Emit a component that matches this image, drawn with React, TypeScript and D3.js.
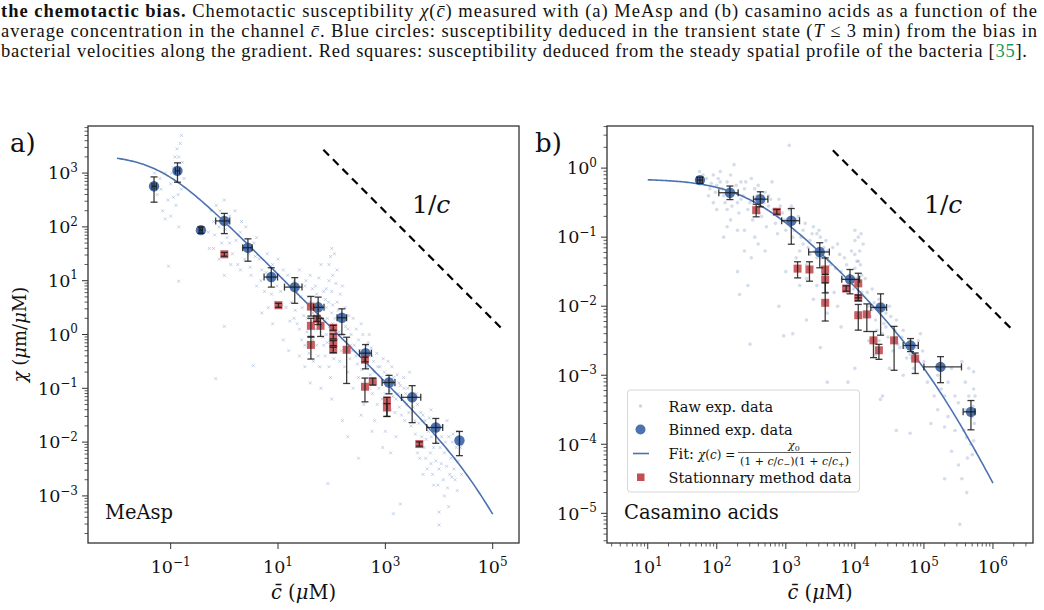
import React from 'react';
import * as d3 from 'd3';

const BLUE = '#4c72b0';
const RED = '#c44e52';
const FONT = '"DejaVu Serif", serif';
const CAPTION_FONT = '"Liberation Serif", serif';

// raw measurements, stored as [log10 c, log10 chi]
const rawA: [number, number][] = [
  [-1.25, 2.6], [-1.2, 2.9], [-1.15, 2.3], [-1.1, 3.0], [-1.05, 2.5], [-1.0, 2.8], [-0.95, 3.1], [-0.9, 2.4],
  [-0.88, 3.45], [-0.85, 3.3], [-0.82, 3.55], [-0.8, 2.7], [-0.78, 3.2], [-0.9, 3.0], [-1.0, 2.2], [-0.85, 2.0],
  [-1.3, 3.0], [-0.75, 2.9], [-0.95, 2.55], [-1.1, 2.15], [-1.18, 2.7], [-0.98, 3.0], [-0.86, 2.6], [-0.92, 3.3],
  [-0.8, 3.7], [-0.84, 3.1],
  [-0.3, 1.9], [-0.25, 2.3], [-0.2, 1.6], [-0.15, 2.4], [-0.1, 2.0], [-0.05, 1.7], [0.0, 2.5], [0.05, 1.8],
  [0.1, 2.2], [0.15, 1.5], [0.2, 2.3], [0.25, 1.3], [0.3, 1.9], [0.35, 1.6], [-0.1, 1.4], [0.0, 1.1],
  [0.1, 1.7], [0.4, 2.0], [-0.2, 2.1], [0.3, 1.2], [-0.28, 1.6], [-0.18, 1.85], [-0.08, 2.3], [0.02, 1.95],
  [0.12, 1.3], [0.22, 1.75], [0.32, 2.1], [0.38, 1.4],
  [-1.04, 1.27], [-0.85, 0.99], [0.0, 0.15], [-0.16, -0.82], [0.54, -0.58],
  [0.45, 1.5], [0.5, 1.1], [0.55, 1.7], [0.6, 0.9], [0.65, 1.4], [0.7, 1.2], [0.75, 0.8], [0.8, 1.5],
  [0.85, 1.0], [0.9, 1.3], [0.95, 0.6], [1.0, 1.1], [1.05, 0.8], [1.1, 1.2], [1.15, 0.5], [0.7, 0.4],
  [0.9, 0.2], [1.0, 1.4], [0.6, 1.8], [1.2, 0.9], [0.48, 1.25], [0.58, 1.45], [0.68, 1.0], [0.78, 1.15],
  [0.88, 0.75], [0.98, 0.9], [1.08, 0.55], [1.18, 1.1], [1.22, 0.25], [0.82, 0.5],
  [1.25, 0.6], [1.3, 1.0], [1.3, 0.3], [1.35, 0.8], [1.4, 0.1], [1.4, 1.2], [1.45, 0.5], [1.5, 0.9],
  [1.5, -0.2], [1.55, 0.3], [1.6, 1.1], [1.6, 0.6], [1.65, -0.1], [1.65, 0.4], [1.7, 0.9], [1.7, 0.1],
  [1.75, 0.6], [1.75, -0.4], [1.8, 1.3], [1.8, 0.3], [1.85, 0.8], [1.85, -0.2], [1.9, 0.5], [1.9, 0.0],
  [1.95, 1.0], [1.95, -0.6], [2.0, 0.4], [2.0, 0.8], [2.0, -0.3], [2.05, 0.1], [2.05, 1.5], [2.1, 0.6],
  [2.1, -0.1], [2.15, 0.3], [2.15, -0.5], [2.2, 0.9], [2.2, 0.0], [2.25, -0.3], [2.25, 0.5], [2.3, 0.1],
  [2.3, -0.7], [2.35, -0.2], [1.5, -0.6], [1.6, -0.9], [1.8, -1.0], [2.0, -1.2], [1.4, -0.4], [1.2, -0.3],
  [1.1, -0.1], [2.1, 1.2], [1.72, 0.75], [1.78, 0.2], [1.88, 0.65], [2.02, 0.2], [2.08, 0.95], [1.92, 0.3],
  [1.28, 0.9], [1.32, 0.45], [1.36, 0.2], [1.42, 0.7], [1.44, -0.1], [1.48, 0.35], [1.52, 1.0], [1.54, 0.05],
  [1.56, 0.7], [1.58, -0.35], [1.62, 0.25], [1.64, 0.85], [1.66, -0.5], [1.68, 0.55], [1.72, -0.2], [1.74, 0.35],
  [1.76, 1.05], [1.78, -0.6], [1.82, 0.5], [1.84, -0.05], [1.86, 0.25], [1.88, -0.4], [1.9, 0.85], [1.92, -0.15],
  [1.94, 0.6], [1.96, 0.15], [1.98, -0.8], [2.02, 0.55], [2.04, -0.45], [2.06, 0.3], [2.08, -0.2], [2.12, 0.45],
  [2.14, 0.05], [2.16, 0.75], [2.18, -0.3], [2.22, 0.25], [2.24, -0.6], [2.26, 0.15], [2.28, -0.1], [2.32, 0.35],
  [2.34, -0.45], [2.36, 0.0], [2.38, -0.3], [1.95, 1.3], [2.0, 1.6], [2.02, 1.1], [1.98, 1.45],
  [2.4, 0.3], [2.45, -0.4], [2.5, -0.1], [2.5, -0.8], [2.55, 0.2], [2.6, -0.5], [2.65, -0.2], [2.7, -1.0],
  [2.75, -0.4], [2.8, -0.7], [2.85, -1.3], [2.9, -0.6], [2.95, -0.9], [3.0, -1.1], [3.05, -0.5], [3.1, -1.4],
  [3.15, -0.8], [3.2, -1.2], [3.25, -0.9], [3.3, -1.5], [3.35, -1.0], [3.4, -1.3], [3.45, -0.7], [2.6, -1.3],
  [2.8, -1.6], [3.0, -1.8], [2.4, -1.0], [3.2, -1.9], [2.7, 0.0], [3.5, -1.1],
  [2.42, -0.2], [2.46, 0.1], [2.48, -0.55], [2.52, -0.3], [2.56, -0.65], [2.58, 0.0], [2.62, -0.85], [2.64, -0.35],
  [2.66, -0.6], [2.68, -0.15], [2.72, -0.75], [2.74, -0.25], [2.76, -1.1], [2.78, -0.5], [2.82, -0.9], [2.84, -0.35],
  [2.86, -0.6], [2.88, -1.0], [2.92, -0.8], [2.94, -1.2], [2.96, -0.45], [2.98, -0.7], [3.02, -0.95], [3.04, -1.25],
  [3.06, -0.75], [3.08, -1.05], [3.12, -0.6], [3.14, -1.15], [3.16, -0.95], [3.18, -1.45], [3.22, -0.75], [3.24, -1.1],
  [3.26, -1.35], [3.28, -0.95], [3.32, -1.2], [3.34, -0.8], [3.36, -1.6], [3.38, -1.1], [3.42, -1.0], [3.44, -1.45],
  [3.46, -1.2], [3.48, -1.7], [2.55, -1.5], [2.75, -1.8], [2.95, -2.1], [3.1, -2.2], [2.5, -2.3], [2.3, -1.9],
  [3.55, -1.6], [3.6, -1.3], [3.65, -2.0], [3.7, -1.5], [3.75, -2.3], [3.8, -1.8], [3.85, -1.4], [3.9, -2.1],
  [3.95, -1.7], [4.0, -2.5], [4.05, -1.9], [4.1, -2.2], [4.15, -1.6], [4.2, -2.6], [4.25, -2.0], [4.3, -2.3],
  [4.35, -1.8], [3.7, -2.6], [3.9, -2.8], [4.1, -3.0], [4.0, -3.3], [3.6, -2.2], [4.3, -2.7], [3.85, -2.4],
  [3.52, -1.35], [3.56, -1.85], [3.58, -1.1], [3.62, -1.65], [3.64, -2.3], [3.66, -1.45], [3.68, -1.9], [3.72, -2.1],
  [3.74, -1.6], [3.76, -1.95], [3.78, -2.5], [3.82, -1.55], [3.84, -2.2], [3.86, -1.9], [3.88, -2.6], [3.92, -1.8],
  [3.94, -2.35], [3.96, -2.0], [3.98, -2.8], [4.02, -2.1], [4.04, -2.4], [4.06, -1.7], [4.08, -2.7], [4.12, -2.0],
  [4.14, -2.45], [4.16, -2.85], [4.18, -1.9], [4.22, -2.3], [4.24, -2.65], [4.26, -1.85], [4.28, -2.5], [4.32, -2.1],
  [4.34, -2.9], [4.36, -2.35], [4.4, -2.1], [4.42, -2.6],
  [3.15, -3.33], [4.0, -3.54], [1.93, -2.77], [3.28, -3.15], [4.18, -3.2], [2.2, -1.6],
];

const rawB: [number, number][] = [
  [1.75, -0.05], [1.85, -0.15], [1.9, -0.3], [1.95, -0.1], [2.0, -0.25], [2.05, -0.05], [2.1, -0.4], [2.15, -0.2],
  [2.2, -0.1], [2.25, -0.35], [2.3, -0.5], [2.35, -0.2], [2.4, -0.3], [2.45, -0.6], [2.5, -0.15], [2.55, -0.45],
  [2.6, -0.25], [2.65, -0.7], [2.7, -0.35], [2.75, -0.55], [2.8, -0.2], [2.85, -0.8], [2.9, -0.45], [2.95, -0.65],
  [3.0, -0.9], [2.0, -0.6], [2.2, -0.75], [2.4, -0.9], [2.1, -1.0], [1.95, -0.5], [2.6, -1.1], [2.5, -1.3],
  [2.3, -1.5], [2.7, -1.2], [2.45, -1.7], [2.9, -2.0], [3.05, 0.33], [2.25, 0.05], [2.05, -0.2], [2.35, -0.45],
  [2.55, -0.3], [2.75, -0.4], [2.15, -0.6], [1.88, -0.4], [2.62, -0.55], [2.82, -0.6],
  [1.8, -0.1], [1.92, -0.22], [1.98, -0.35], [2.02, -0.15], [2.08, -0.3], [2.12, -0.5], [2.18, -0.3], [2.22, -0.55],
  [2.28, -0.25], [2.32, -0.65], [2.38, -0.4], [2.42, -0.2], [2.48, -0.5], [2.52, -0.75], [2.58, -0.4], [2.62, -0.65],
  [2.68, -0.5], [2.72, -0.85], [2.78, -0.45], [2.84, -0.65], [2.88, -0.95], [2.92, -0.55], [2.98, -0.75], [2.3, -0.9],
  [2.15, -0.85], [2.55, -1.0], [2.4, -1.2],
  [3.05, -0.6], [3.1, -1.0], [3.15, -0.75], [3.2, -1.2], [3.25, -0.9], [3.3, -1.4], [3.35, -1.05], [3.4, -0.85],
  [3.45, -1.3], [3.5, -1.0], [3.55, -1.6], [3.6, -1.2], [3.65, -1.4], [3.7, -1.8], [3.75, -1.1], [3.8, -1.5],
  [3.85, -1.3], [3.9, -1.7], [3.95, -1.2], [4.0, -0.9], [4.0, -1.05], [4.0, -1.25], [4.0, -1.45], [4.02, -1.6],
  [3.98, -1.75], [4.05, -1.35], [4.1, -1.8], [3.2, -1.7], [3.4, -1.9], [3.6, -2.1], [3.1, -2.4], [3.3, -2.2],
  [3.8, -2.3], [3.5, -2.6], [3.0, -1.5], [3.25, -1.1], [3.45, -0.95], [3.35, -1.25], [3.55, -1.15],
  [3.02, -0.75], [3.08, -0.55], [3.12, -0.9], [3.18, -0.7], [3.22, -1.0], [3.28, -0.8], [3.32, -1.15], [3.38, -0.95],
  [3.42, -1.2], [3.48, -0.9], [3.52, -1.3], [3.58, -1.05], [3.62, -1.35], [3.68, -1.15], [3.72, -1.45], [3.78, -1.25],
  [3.82, -1.6], [3.88, -1.4], [3.92, -1.55], [3.15, -1.3], [3.3, -1.6], [3.45, -1.7], [3.6, -1.8], [3.75, -2.0],
  [4.05, -1.0], [4.07, -1.2], [4.08, -1.4], [4.1, -1.55], [4.12, -1.1], [4.06, -1.7], [4.11, -1.85], [4.03, -1.35],
  [4.09, -0.95],
  [4.15, -1.6], [4.2, -2.0], [4.25, -1.75], [4.3, -2.2], [4.35, -1.9], [4.4, -2.4], [4.45, -2.1], [4.5, -2.0],
  [4.55, -2.5], [4.6, -2.2], [4.65, -2.6], [4.7, -2.35], [4.75, -2.75], [4.8, -2.5], [4.85, -2.9], [4.9, -2.6],
  [4.95, -2.4], [5.0, -2.8], [4.3, -2.7], [4.5, -2.9], [4.2, -2.5], [4.7, -3.0], [5.05, -3.1], [4.0, -2.9],
  [4.4, -3.3], [3.9, -3.1], [4.45, -2.3], [4.6, -2.45], [4.25, -2.05], [4.8, -2.7],
  [4.18, -1.8], [4.22, -2.15], [4.28, -1.95], [4.32, -2.35], [4.38, -2.05], [4.42, -2.25], [4.48, -2.45], [4.52, -2.15],
  [4.58, -2.35], [4.62, -2.55], [4.68, -2.45], [4.72, -2.6], [4.78, -2.55], [4.82, -2.75], [4.88, -2.7], [4.92, -2.5],
  [4.98, -2.65], [4.55, -2.65], [4.35, -2.5],
  [5.2, -3.0], [5.3, -3.3], [5.35, -3.6], [5.4, -2.9], [5.45, -3.8], [5.5, -3.4], [5.55, -2.8], [5.6, -3.1],
  [5.6, -3.5], [5.62, -3.9], [5.63, -4.2], [5.65, -3.3], [5.65, -2.9], [5.68, -4.0], [5.5, -4.3], [5.4, -4.1],
  [5.3, -4.5], [5.1, -3.7], [5.52, -5.16], [4.6, -3.8], [5.2, -3.5],
  [5.72, -2.95], [5.72, -3.2], [5.71, -3.45], [5.73, -3.7], [5.72, -3.95], [5.7, -4.15], [5.74, -3.3], [5.7, -3.6],
  [5.25, -3.2], [5.35, -3.1], [5.45, -3.3], [5.3, -3.75], [5.15, -3.3], [5.58, -3.8], [5.55, -4.5], [5.62, -4.7],
  [2.33, -1.83], [2.48, -2.55], [2.97, -2.43], [3.6, -3.1], [4.37, -3.35], [4.8, -3.84],
];

// binned data: [c, chi, chiLow, chiHigh, cLow, cHigh]
const binnedA: number[][] = [
  [0.049, 570, 288, 850, 0.045, 0.054],
  [0.134, 1100, 676, 1550, 0.122, 0.147],
  [0.366, 87, 76, 100, 0.34, 0.39],
  [1.0, 129, 75, 178, 0.69, 1.26],
  [2.75, 41, 23, 60, 2.2, 3.3],
  [7.5, 11.7, 7.6, 17.4, 5.5, 9.8],
  [20.5, 7.6, 3.8, 11.4, 13.2, 28],
  [56, 3.2, 1.53, 4.95, 46, 72],
  [155, 2.05, 1.0, 3.0, 126, 190],
  [427, 0.45, 0.23, 0.65, 330, 550],
  [1170, 0.128, 0.079, 0.174, 870, 1510],
  [3160, 0.068, 0.023, 0.112, 2000, 4570],
  [8700, 0.0187, 0.0095, 0.0275, 5900, 11700],
  [24000, 0.0107, 0.0056, 0.0158, 24000, 24000],
];

// stationary method: [c, chi, chiLow, chiHigh]
const stationaryA: number[][] = [
  [1.0, 31, 28.5, 33.5],
  [10.2, 3.5, 3.2, 3.8],
  [41, 3.3, 2.2, 5.1],
  [41, 1.45, 0.92, 2.0],
  [41, 0.64, 0.35, 0.89],
  [53, 1.96, 1.75, 2.2],
  [62, 1.45, 0.92, 2.0],
  [107, 1.33, 1.2, 1.48],
  [107, 0.92, 0.83, 1.02],
  [107, 0.69, 0.62, 0.77],
  [107, 0.52, 0.46, 0.58],
  [190, 0.52, 0.123, 0.89],
  [417, 0.34, 0.31, 0.38],
  [417, 0.107, 0.056, 0.155],
  [582, 0.133, 0.115, 0.155],
  [1070, 0.059, 0.03, 0.068],
  [1070, 0.044, 0.03, 0.052],
  [4300, 0.0092, 0.0084, 0.0101],
];

const binnedB: number[][] = [
  [57, 0.67, 0.6, 0.74, 52, 62],
  [155, 0.44, 0.35, 0.55, 107, 204],
  [427, 0.355, 0.275, 0.454, 340, 550],
  [1200, 0.173, 0.079, 0.26, 870, 1580],
  [3100, 0.061, 0.036, 0.083, 2140, 4270],
  [8500, 0.0245, 0.0151, 0.034, 6460, 11700],
  [23600, 0.0096, 0.0038, 0.0151, 17000, 28800],
  [64000, 0.0027, 0.0022, 0.0034, 50000, 83000],
  [174000, 0.00132, 0.00078, 0.00186, 100000, 350000],
  [480000, 0.000295, 0.000162, 0.00043, 370000, 550000],
];

const stationaryB: number[][] = [
  [372, 0.246, 0.197, 0.3],
  [741, 0.233, 0.215, 0.252],
  [1480, 0.035, 0.0257, 0.044],
  [2200, 0.034, 0.023, 0.044],
  [3720, 0.034, 0.029, 0.05],
  [3720, 0.0244, 0.0156, 0.029],
  [3720, 0.0112, 0.0061, 0.0218],
  [7480, 0.018, 0.0165, 0.0197],
  [11200, 0.0214, 0.0132, 0.03],
  [11200, 0.0132, 0.012, 0.0145],
  [11200, 0.0074, 0.0045, 0.0106],
  [14900, 0.0076, 0.0043, 0.0108],
  [18600, 0.0032, 0.0018, 0.0043],
  [22300, 0.0023, 0.0017, 0.0028],
  [37000, 0.0032, 0.00118, 0.0051],
  [74800, 0.00174, 0.00106, 0.0021],
];

// fit parameters chi(c) = chi0 / ((1 + c/c-)(1 + c/c+))
const fitA = { chi0: 2200, cMinus: 0.06, cPlus: 53000, cStart: 0.01, cEnd: 1e5 };
const fitB = { chi0: 0.7, cMinus: 300, cPlus: 150000, cStart: 10, cEnd: 1e6 };

// 1/c guide lines: K / c
const guideA = { k: 1.9e5, cStart: 70, cEnd: 1.55e5 };
const guideB = { k: 8700, cStart: 4800, cEnd: 1.9e6 };

const xTicksA = [-1, 1, 3, 5];
const yTicksA = [-3, -2, -1, 0, 1, 2, 3];
const xTicksB = [1, 2, 3, 4, 5, 6];
const yTicksB = [-5, -4, -3, -2, -1, 0];

const sup = (e: number) => (e < 0 ? '\u2212' + Math.abs(e) : String(e));

type PanelProps = {
  left: number; right: number; top: number; bottom: number;
  xDom: [number, number]; yDom: [number, number];
  xTicks: number[]; yTicks: number[]; xMinor: boolean;
  raw: [number, number][]; rawKind: 'x' | 'dot';
  binned: number[][]; stationary: number[][];
  fit: typeof fitA; guide: typeof guideA;
  guideLabel: [number, number];
  name: string; letter: string; letterX: number; yLabel: boolean;
  children?: React.ReactNode;
};

function Panel(p: PanelProps) {
  const x = d3.scaleLog().domain(p.xDom).range([p.left, p.right]);
  const y = d3.scaleLog().domain(p.yDom).range([p.bottom, p.top]);
  const cx = (p.left + p.right) / 2;
  const cy = (p.top + p.bottom) / 2;

  const minor = (dom: [number, number]) => {
    const out: number[] = [];
    const lo = Math.floor(Math.log10(dom[0])), hi = Math.ceil(Math.log10(dom[1]));
    for (let e = lo; e <= hi; e++) for (let m = 2; m <= 9; m++) {
      const v = m * Math.pow(10, e);
      if (v >= dom[0] && v <= dom[1]) out.push(v);
    }
    return out;
  };

  const fitPts = d3.range(0, 201).map(i => {
    const lc = Math.log10(p.fit.cStart) + (i / 200) * (Math.log10(p.fit.cEnd) - Math.log10(p.fit.cStart));
    const c = Math.pow(10, lc);
    return [c, p.fit.chi0 / ((1 + c / p.fit.cMinus) * (1 + c / p.fit.cPlus))] as [number, number];
  });
  const line = d3.line<[number, number]>().x(d => x(d[0])).y(d => y(d[1]));

  const cap = 3.5;
  const clipId = 'clip' + p.letter.replace(')', '');

  return (
    <g>
      <defs>
        <clipPath id={clipId}>
          <rect x={p.left} y={p.top} width={p.right - p.left} height={p.bottom - p.top} />
        </clipPath>
      </defs>
      <g clipPath={`url(#${clipId})`}>
        {p.raw.map((d, i) => {
          const px = x(Math.pow(10, d[0])), py = y(Math.pow(10, d[1]));
          return p.rawKind === 'x' ? (
            <path key={i} d={`M${px - 1.5},${py - 1.5}L${px + 1.5},${py + 1.5}M${px - 1.5},${py + 1.5}L${px + 1.5},${py - 1.5}`}
              stroke="#8fa8d4" strokeOpacity={0.5} strokeWidth={1} />
          ) : (
            <circle key={i} cx={px} cy={py} r={1.8} fill={BLUE} fillOpacity={0.24} />
          );
        })}
        <path d={line(fitPts) || ''} fill="none" stroke={BLUE} strokeWidth={1.6} />
        <line x1={x(p.guide.cStart)} y1={y(p.guide.k / p.guide.cStart)} x2={x(p.guide.cEnd)} y2={y(p.guide.k / p.guide.cEnd)}
          stroke="#000" strokeWidth={2.2} strokeDasharray="8,5.5" />
        {p.binned.map((d, i) => (
          <circle key={i} cx={x(d[0])} cy={y(d[1])} r={5.2} fill={BLUE} />
        ))}
        {p.stationary.map((d, i) => (
          <rect key={i} x={x(d[0]) - 4} y={y(d[1]) - 4} width={8} height={8} fill={RED} fillOpacity={0.9} />
        ))}
        <g stroke="#1a1a1a" strokeWidth={1.3} strokeOpacity={0.85}>
          {p.binned.map((d, i) => {
            const px = x(d[0]), py = y(d[1]);
            const hasX = d[4] !== d[5];
            return (
              <g key={i}>
                <line x1={px} x2={px} y1={y(d[2])} y2={y(d[3])} />
                <line x1={px - cap} x2={px + cap} y1={y(d[2])} y2={y(d[2])} />
                <line x1={px - cap} x2={px + cap} y1={y(d[3])} y2={y(d[3])} />
                {hasX && <line x1={x(d[4])} x2={x(d[5])} y1={py} y2={py} />}
                {hasX && <line x1={x(d[4])} x2={x(d[4])} y1={py - cap} y2={py + cap} />}
                {hasX && <line x1={x(d[5])} x2={x(d[5])} y1={py - cap} y2={py + cap} />}
              </g>
            );
          })}
          {p.stationary.map((d, i) => {
            const px = x(d[0]);
            return (
              <g key={i}>
                <line x1={px} x2={px} y1={y(d[2])} y2={y(d[3])} />
                <line x1={px - cap} x2={px + cap} y1={y(d[2])} y2={y(d[2])} />
                <line x1={px - cap} x2={px + cap} y1={y(d[3])} y2={y(d[3])} />
              </g>
            );
          })}
        </g>
      </g>

      <text x={p.guideLabel[0]} y={p.guideLabel[1]} fontFamily={FONT} fontSize={25} fill="#111">
        1/<tspan fontStyle="italic">c</tspan>
      </text>

      {/* frame */}
      <rect x={p.left} y={p.top} width={p.right - p.left} height={p.bottom - p.top} fill="none" stroke="#333" strokeWidth={1.3} />

      {/* ticks */}
      <g stroke="#333" strokeWidth={1}>
        {p.yTicks.map(e => (
          <line key={'ym' + e} x1={p.left - 6} x2={p.left} y1={y(Math.pow(10, e))} y2={y(Math.pow(10, e))} />
        ))}
        {minor(p.yDom).map((v, i) => (
          <line key={'yn' + i} x1={p.left - 3.5} x2={p.left} y1={y(v)} y2={y(v)} strokeWidth={0.8} />
        ))}
        {p.xTicks.map(e => (
          <line key={'xm' + e} x1={x(Math.pow(10, e))} x2={x(Math.pow(10, e))} y1={p.bottom} y2={p.bottom + 6} />
        ))}
        {p.xMinor && minor(p.xDom).map((v, i) => (
          <line key={'xn' + i} x1={x(v)} x2={x(v)} y1={p.bottom} y2={p.bottom + 3.5} strokeWidth={0.8} />
        ))}
      </g>

      <g fontFamily={FONT} fill="#111">
        {p.yTicks.map(e => (
          <text key={'yl' + e} x={p.left - 10} y={y(Math.pow(10, e)) + 6.3} textAnchor="end" fontSize={17.5}>
            10<tspan dy={-7.5} fontSize={12}>{sup(e)}</tspan>
          </text>
        ))}
        {p.xTicks.map(e => (
          <text key={'xl' + e} x={x(Math.pow(10, e))} y={p.bottom + 30} textAnchor="middle" fontSize={17.5}>
            10<tspan dy={-7.5} fontSize={12}>{sup(e)}</tspan>
          </text>
        ))}
        <text x={cx} y={599} textAnchor="middle" fontSize={19.5}>
          <tspan fontStyle="italic">{'c\u0304'}</tspan> (<tspan fontStyle="italic">{'\u03bc'}</tspan>M)
        </text>
        {p.yLabel && (
          <text transform={`translate(26,${cy}) rotate(-90)`} textAnchor="middle" fontSize={18}>
            <tspan fontStyle="italic">{'\u03c7'}</tspan> (<tspan fontStyle="italic">{'\u03bc'}</tspan>m/<tspan fontStyle="italic">{'\u03bc'}</tspan>M)
          </text>
        )}
        <text x={p.letterX} y={152} fontSize={26}>{p.letter}</text>
        <text x={p.left + 17} y={519} fontSize={19.5}>{p.name}</text>
      </g>
      {p.children}
    </g>
  );
}

function Legend() {
  const lx = 627.5, ly = 390;
  return (
    <g fontFamily={FONT} fill="#111">
      <rect x={lx} y={ly} width={232} height={102} rx={3} fill="#fff" fillOpacity={0.85} stroke="#d6d6d6" strokeWidth={1} />
      <circle cx={640.5} cy={406} r={1.7} fill={BLUE} fillOpacity={0.3} />
      <text x={668.5} y={412} fontSize={14.5}>Raw exp. data</text>
      <circle cx={640.5} cy={429.5} r={5} fill={BLUE} />
      <text x={668.5} y={435} fontSize={14.5}>Binned exp. data</text>
      <line x1={633} x2={649} y1={453.5} y2={453.5} stroke={BLUE} strokeWidth={1.6} />
      <text x={668.5} y={458.5} fontSize={14.5}>Fit: </text>
      <text x={698} y={458.5} fontSize={12}>
        <tspan fontStyle="italic">{'\u03c7'}</tspan>(<tspan fontStyle="italic">c</tspan>) =
      </text>
      <text x={794} y={449} fontSize={11} textAnchor="middle">
        <tspan fontStyle="italic">{'\u03c7'}</tspan><tspan fontSize={8} dy={2}>0</tspan>
      </text>
      <line x1={738} x2={851} y1={452.5} y2={452.5} stroke="#333" strokeWidth={0.8} />
      <text x={794.5} y={465} fontSize={11} textAnchor="middle">
        (1 + <tspan fontStyle="italic">c</tspan>/<tspan fontStyle="italic">c</tspan><tspan fontSize={8} dy={2}>{'\u2212'}</tspan><tspan dy={-2}>)(1 + </tspan><tspan fontStyle="italic">c</tspan>/<tspan fontStyle="italic">c</tspan><tspan fontSize={8} dy={2}>+</tspan><tspan dy={-2}>)</tspan>
      </text>
      <rect x={637} y={473.5} width={7.5} height={7.5} fill={RED} />
      <text x={668.5} y={483} fontSize={14.5}>Stationnary method data</text>
    </g>
  );
}

function Caption() {
  const f = { fontFamily: CAPTION_FONT, fontSize: 18.5, fill: '#111' };
  return (
    <g>
      <text x={1} y={17} textLength={1036} lengthAdjust="spacing" {...f}>
        <tspan fontWeight="bold">the chemotactic bias.</tspan> Chemotactic susceptibility <tspan fontStyle="italic">{'\u03c7'}</tspan>(<tspan fontStyle="italic">{'c\u0304'}</tspan>) measured with (a) MeAsp and (b) casamino acids as a function of the
      </text>
      <text x={1} y={37} textLength={1036} lengthAdjust="spacing" {...f}>
        average concentration in the channel <tspan fontStyle="italic">{'c\u0304'}</tspan>. Blue circles: susceptibility deduced in the transient state (<tspan fontStyle="italic">T</tspan> {'\u2264'} 3 min) from the bias in
      </text>
      <text x={1} y={57} textLength={1026} lengthAdjust="spacing" {...f}>
        bacterial velocities along the gradient. Red squares: susceptibility deduced from the steady spatial profile of the bacteria [<tspan fill="#1a9a5a">35</tspan>].
      </text>
    </g>
  );
}

export default function App() {
  return (
    <svg width={1044} height={610} style={{ position: 'absolute', left: 0, top: 0, background: '#fff' }}>
      <rect width={1044} height={610} fill="#fff" />
      <Caption />
      <Panel left={88} right={519} top={126} bottom={543}
        xDom={[Math.pow(10, -2.54), Math.pow(10, 5.49)]} yDom={[Math.pow(10, -3.875), Math.pow(10, 3.875)]}
        xTicks={xTicksA} yTicks={yTicksA} xMinor={false}
        raw={rawA} rawKind="x" binned={binnedA} stationary={stationaryA}
        fit={fitA} guide={guideA} guideLabel={[412, 213]}
        name="MeAsp" letter="a)" letterX={10} yLabel={true} />
      <Panel left={607} right={1033} top={126} bottom={543}
        xDom={[Math.pow(10, 0.41), Math.pow(10, 6.58)]} yDom={[Math.pow(10, -5.43), Math.pow(10, 0.61)]}
        xTicks={xTicksB} yTicks={yTicksB} xMinor={true}
        raw={rawB} rawKind="dot" binned={binnedB} stationary={stationaryB}
        fit={fitB} guide={guideB} guideLabel={[924, 213]}
        name="Casamino acids" letter="b)" letterX={535} yLabel={false}>
        <Legend />
      </Panel>
    </svg>
  );
}
